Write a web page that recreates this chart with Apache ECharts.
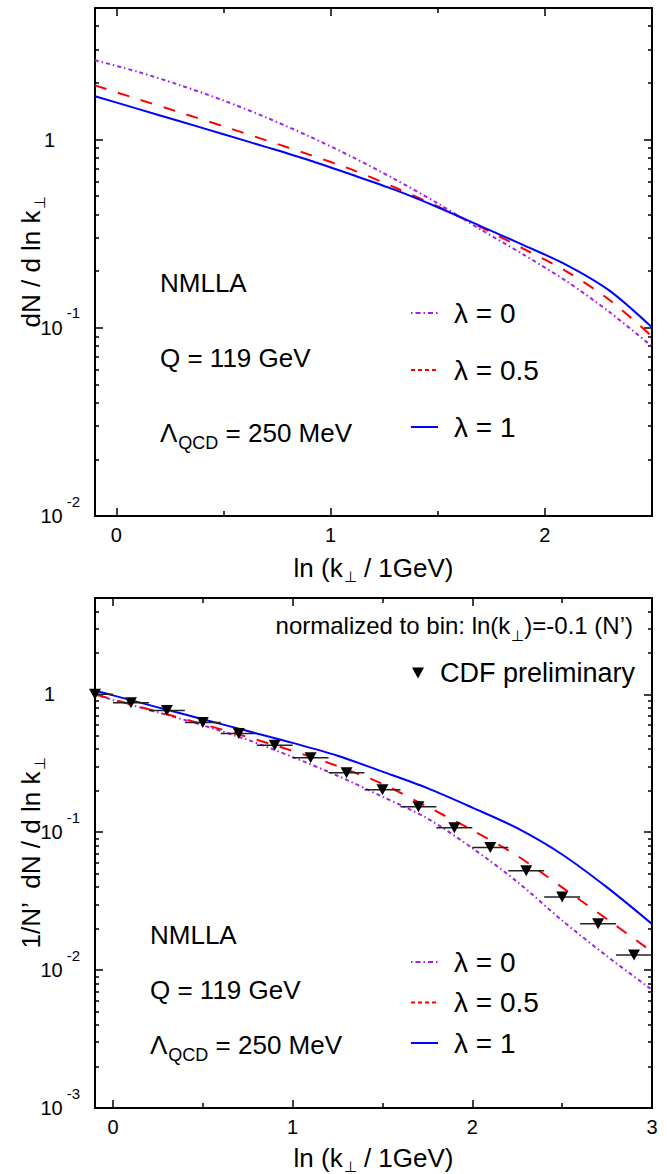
<!DOCTYPE html>
<html>
<head>
<meta charset="utf-8">
<script src="https://cdn.jsdelivr.net/npm/echarts@6/dist/echarts.min.js"></script>
<style>
html,body{margin:0;padding:0;background:#fff;}
#chart{width:667px;height:1174px;}
</style>
</head>
<body>
<div id="chart"></div>
<script>
// ---------------- data ----------------
const seriesNames = ['λ = 0', 'λ = 0.5', 'λ = 1'];

// upper panel: dN / d ln k_perp
const topX       = [-0.1, 0.1, 0.3, 0.5, 0.7, 0.9, 1.1, 1.3, 1.5, 1.7, 1.9, 2.1, 2.3, 2.5];
const topLambda0 = [2.64, 2.29, 1.94, 1.612, 1.309, 1.04, 0.809, 0.615, 0.458, 0.333, 0.245, 0.177, 0.1216, 0.0796];
const topLambda05= [1.94, 1.64, 1.39, 1.175, 0.99, 0.832, 0.692, 0.556, 0.441, 0.343, 0.263, 0.1995, 0.141, 0.090];
const topLambda1 = [1.70, 1.455, 1.246, 1.067, 0.912, 0.776, 0.650, 0.540, 0.437, 0.347, 0.275, 0.216, 0.158, 0.1005];

// lower panel: 1/N' dN / d ln k_perp
const botX       = [-0.1, 0, 0.25, 0.5, 0.75, 1.0, 1.25, 1.5, 1.75, 2.0, 2.25, 2.5, 2.75, 3.0];
const botLambda0 = [1.0, 0.912, 0.741, 0.596, 0.468, 0.351, 0.257, 0.181, 0.126, 0.0767, 0.0437, 0.0229, 0.0126, 0.0072];
const botLambda05= [1.0, 0.92, 0.748, 0.608, 0.49, 0.389, 0.302, 0.224, 0.153, 0.1035, 0.0675, 0.0398, 0.0234, 0.0136];
const botLambda1 = [1.064, 0.983, 0.805, 0.66, 0.542, 0.445, 0.359, 0.275, 0.209, 0.151, 0.107, 0.069, 0.0398, 0.0216];

// CDF preliminary points (bin centres, normalized values)
const cdfX = [-0.1, 0.1, 0.3, 0.5, 0.7, 0.9, 1.1, 1.3, 1.5, 1.7, 1.9, 2.1, 2.3, 2.5, 2.7, 2.9];
const cdfY = [1.0, 0.87, 0.764, 0.625, 0.52, 0.428, 0.347, 0.27, 0.203, 0.153, 0.108, 0.0776, 0.0525, 0.0339, 0.0217, 0.0129];
const cdfBinHalfWidth = 0.1;

// tick values / labels
const topXMajor = [0, 1, 2];
const topXMinor = [0.5, 1.5];
const botXMajor = [0, 1, 2, 3];
const botXMinor = [0.5, 1.5, 2.5];
const topYMajor = [0.01, 0.1, 1];
const topYMinor = [0.02,0.03,0.04,0.05,0.06,0.07,0.08,0.09,0.2,0.3,0.4,0.5,0.6,0.7,0.8,0.9,2,3,4];
const botYMajor = [0.001, 0.01, 0.1, 1];
const botYMinor = [0.002,0.003,0.004,0.005,0.006,0.007,0.008,0.009,0.02,0.03,0.04,0.05,0.06,0.07,0.08,0.09,0.2,0.3,0.4,0.5,0.6,0.7,0.8,0.9,2,3,4];

const xTitle = 'ln (k{sub|⊥} / 1GeV)';
const topYTitle = 'dN / d ln k{sub|⊥}';
const botYTitle = '1/N’  dN / d ln k{sub|⊥}';

// ---------------- styles ----------------
const FONT = "'Liberation Sans', Arial, Helvetica, sans-serif";
const COLORS = ['#a020f0', '#ff0000', '#0000ff'];
const DASH_PLOT = [[4, 3, 1.5, 3], [12, 12], 'solid'];
const DASH_LEGEND = [[1.5, 3, 5, 3], [4, 3], 'solid'];

const subRich = {
  sub: { fontSize: 15, fontFamily: FONT, color: '#000', padding: [18, 0, 0, 1] }
};

function logLabel(v) {
  const e = Math.round(Math.log10(v));
  return e === 0 ? '{one|1}' : '{b|10}{sup|' + e + '}';
}
const yLabelRich = {
  one: { fontSize: 20, fontFamily: FONT, color: '#000', padding: [0, 25, 0, 0] },
  b:   { fontSize: 20, fontFamily: FONT, color: '#000' },
  sup: { fontSize: 15, fontFamily: FONT, color: '#000', padding: [0, 0, 30, 4] }
};

const lineAx = { show: true, onZero: false, lineStyle: { color: '#000', width: 2 } };
const tickStyle = { color: '#000', width: 1.5 };

function makeXAxes(gridIndex, min, max, major, minor, nameGap) {
  const base = { gridIndex, type: 'value', min, max, splitLine: { show: false } };
  return [
    Object.assign({}, base, {
      position: 'bottom',
      axisLine: lineAx,
      axisTick: { show: true, inside: true, length: 8, customValues: major, lineStyle: tickStyle },
      axisLabel: { show: true, customValues: major, margin: 9, fontSize: 20, fontFamily: FONT, color: '#000' },
      name: xTitle, nameLocation: 'middle', nameGap: nameGap, nameMoveOverlap: false,
      nameTextStyle: { fontSize: 26, fontFamily: FONT, color: '#000', rich: subRich }
    }),
    Object.assign({}, base, {
      position: 'bottom',
      axisLine: { show: false, onZero: false },
      axisTick: { show: true, inside: true, length: 5, customValues: minor, lineStyle: tickStyle },
      axisLabel: { show: false }
    }),
    Object.assign({}, base, {
      position: 'top',
      axisLine: lineAx,
      axisTick: { show: true, inside: true, length: 8, customValues: major, lineStyle: tickStyle },
      axisLabel: { show: false }
    }),
    Object.assign({}, base, {
      position: 'top',
      axisLine: { show: false, onZero: false },
      axisTick: { show: true, inside: true, length: 5, customValues: minor, lineStyle: tickStyle },
      axisLabel: { show: false }
    })
  ];
}

function makeYAxes(gridIndex, min, max, major, minor, title) {
  const base = { gridIndex, type: 'log', logBase: 10, min, max, splitLine: { show: false } };
  return [
    Object.assign({}, base, {
      position: 'left',
      axisLine: lineAx,
      axisTick: { show: true, inside: true, length: 8, customValues: major, lineStyle: tickStyle },
      axisLabel: { show: true, customValues: major, margin: 15, formatter: logLabel, rich: yLabelRich },
      name: title, nameLocation: 'middle', nameGap: 48, nameMoveOverlap: false,
      nameTextStyle: { fontSize: 26, fontFamily: FONT, color: '#000', rich: subRich }
    }),
    Object.assign({}, base, {
      position: 'left',
      axisLine: { show: false, onZero: false },
      axisTick: { show: true, inside: true, length: 4, customValues: minor, lineStyle: tickStyle },
      axisLabel: { show: false }
    }),
    Object.assign({}, base, {
      position: 'right',
      axisLine: lineAx,
      axisTick: { show: true, inside: true, length: 8, customValues: major, lineStyle: tickStyle },
      axisLabel: { show: false }
    }),
    Object.assign({}, base, {
      position: 'right',
      axisLine: { show: false, onZero: false },
      axisTick: { show: true, inside: true, length: 4, customValues: minor, lineStyle: tickStyle },
      axisLabel: { show: false }
    })
  ];
}

function lineSeries(name, xs, ys, idx, axisIndex) {
  return {
    name: name, type: 'line', xAxisIndex: axisIndex, yAxisIndex: axisIndex,
    data: xs.map((x, i) => [x, ys[i]]),
    symbol: 'none', showSymbol: false, smooth: 0.3,
    lineStyle: { color: COLORS[idx], width: 2, type: DASH_PLOT[idx] },
    itemStyle: { color: COLORS[idx] },
    z: 2, silent: true
  };
}

const legendData = seriesNames.map((n, i) => ({
  name: n, lineStyle: { type: DASH_LEGEND[i], width: 2 }, itemStyle: { opacity: 0 }
}));
const legendText = { fontSize: 28, fontFamily: FONT, color: '#000', lineHeight: 30, padding: [0, 0, 0, 11] };
const cdfLegendText = { fontSize: 27, fontFamily: FONT, color: '#000', lineHeight: 30, padding: [0, 0, 0, 11] };

function txt(x, y, text, size, extra) {
  return {
    type: 'text', x: x, y: y, silent: true,
    style: Object.assign({ text: text, fontSize: size, fontFamily: FONT, fill: '#000', align: 'left', verticalAlign: 'middle' }, extra || {})
  };
}
const lamRich = { rich: { sub: { fontSize: 18, fontFamily: FONT, fill: '#000', padding: [20, 0, 0, 1] } } };
const normRich = { align: 'right', rich: { sub: { fontSize: 15, fontFamily: FONT, fill: '#000', padding: [20, 0, 0, 1] } } };

const option = {
  animation: false,
  backgroundColor: '#fff',
  grid: [
    { left: 95, right: 15, top: 8, height: 508, outerBoundsMode: 'none', containLabel: false },
    { left: 95, right: 15, top: 598, height: 510, outerBoundsMode: 'none', containLabel: false }
  ],
  xAxis: [].concat(
    makeXAxes(0, -0.1, 2.5, topXMajor, topXMinor, 35),
    makeXAxes(1, -0.1, 3, botXMajor, botXMinor, 33)
  ),
  yAxis: [].concat(
    makeYAxes(0, 0.01, 5, topYMajor, topYMinor, topYTitle),
    makeYAxes(1, 0.001, 5, botYMajor, botYMinor, botYTitle)
  ),
  legend: [
    { data: legendData, orient: 'vertical', left: 410, top: 298, padding: 0, itemWidth: 27, itemHeight: 14, itemGap: 27,
      selectedMode: false, textStyle: legendText },
    { data: legendData, orient: 'vertical', left: 410, top: 947, padding: 0, itemWidth: 27, itemHeight: 14, itemGap: 10.5,
      selectedMode: false, textStyle: legendText },
    { data: [{ name: 'CDF preliminary', icon: 'path://M0,0L12,0L6,11Z', itemStyle: { color: '#000', opacity: 1 } }],
      orient: 'vertical', left: 412, top: 658, padding: 0,
      itemWidth: 12, itemHeight: 11, selectedMode: false, textStyle: cdfLegendText }
  ],
  series: [
    lineSeries(seriesNames[0], topX, topLambda0, 0, 0),
    lineSeries(seriesNames[1], topX, topLambda05, 1, 0),
    lineSeries(seriesNames[2], topX, topLambda1, 2, 0),
    lineSeries(seriesNames[0], botX, botLambda0, 0, 4),
    lineSeries(seriesNames[1], botX, botLambda05, 1, 4),
    lineSeries(seriesNames[2], botX, botLambda1, 2, 4),
    {
      name: 'CDF bins', type: 'custom', xAxisIndex: 4, yAxisIndex: 4, clip: true, silent: true, z: 3,
      data: cdfX.map((x, i) => [x, cdfY[i]]),
      renderItem: function (params, api) {
        const x = api.value(0), y = api.value(1);
        const p1 = api.coord([x - cdfBinHalfWidth, y]);
        const p2 = api.coord([x + cdfBinHalfWidth, y]);
        return { type: 'line', shape: { x1: p1[0], y1: p1[1], x2: p2[0], y2: p2[1] },
                 style: { stroke: '#222', lineWidth: 1.5 } };
      }
    },
    {
      name: 'CDF preliminary', type: 'scatter', xAxisIndex: 4, yAxisIndex: 4, silent: true, z: 4,
      data: cdfX.map((x, i) => [x, cdfY[i]]),
      symbol: 'triangle', symbolRotate: 180, symbolSize: [12, 11],
      itemStyle: { color: '#000', opacity: 1 }
    }
  ],
  graphic: [
    txt(160, 283, 'NMLLA', 26),
    txt(160, 358, 'Q = 119 GeV', 26),
    txt(160, 433, 'Λ{sub|QCD} = 250 MeV', 26, lamRich),
    txt(633, 625, 'normalized to bin: ln(k{sub|⊥})=-0.1 (N’)', 24, normRich),
    txt(150, 935, 'NMLLA', 26),
    txt(150, 990, 'Q = 119 GeV', 26),
    txt(150, 1045, 'Λ{sub|QCD} = 250 MeV', 26, lamRich)
  ]
};

const chart = echarts.init(document.getElementById('chart'), null, { renderer: 'svg', width: 667, height: 1174 });
chart.setOption(option);
</script>
</body>
</html>
